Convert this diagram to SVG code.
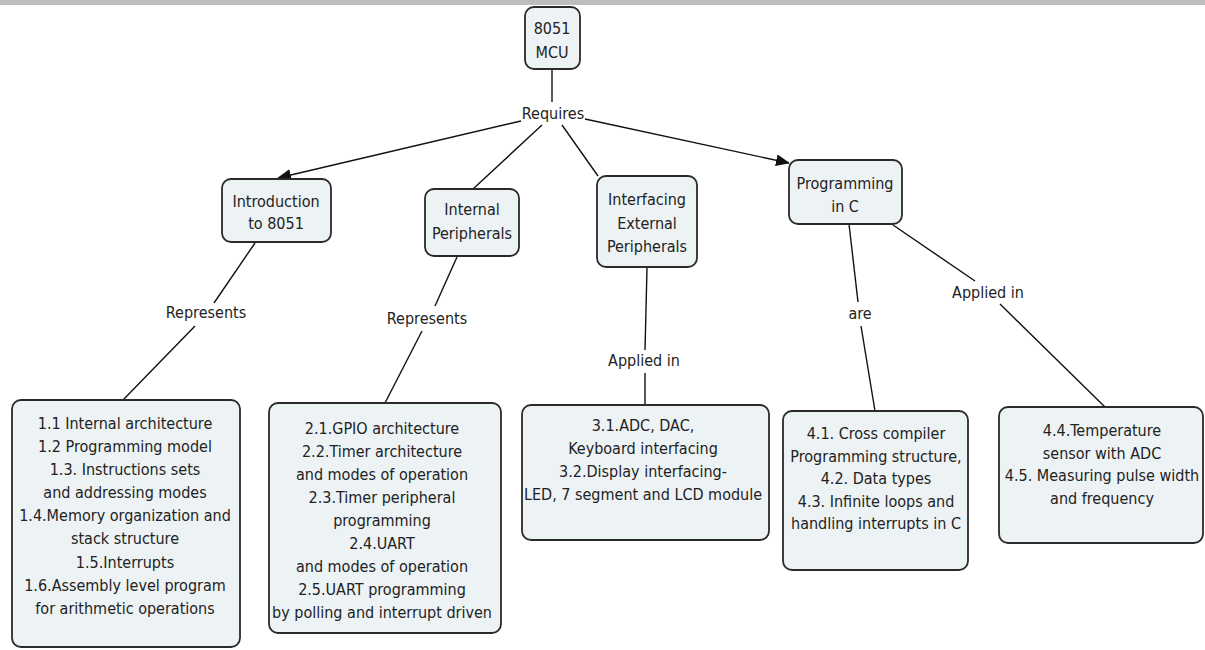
<svg xmlns="http://www.w3.org/2000/svg" width="1205" height="650" viewBox="0 0 1205 650">
<style>
.node{fill:#edf2f5;stroke:#2a2a2a;stroke-width:1.8}
.t{font-family:"DejaVu Sans Condensed","DejaVu Sans",sans-serif;font-stretch:condensed;font-size:16px;fill:#222;text-anchor:middle}
.c{stroke:#111;stroke-width:1.4;fill:none}
</style>
<defs>
<marker id="ah" markerUnits="userSpaceOnUse" markerWidth="14" markerHeight="12" refX="13" refY="6" orient="auto">
<path d="M0,0 L14,6 L0,12 z" fill="#111"/>
</marker>
</defs>
<rect x="0" y="0" width="1205" height="5" fill="#bdbdbd"/>
<rect width="1205" height="645" y="5" fill="#fff"/>

<g id="connectors">
<line class="c" x1="552" y1="69" x2="552" y2="102"/>
<line class="c" x1="521" y1="121" x2="278" y2="178" marker-end="url(#ah)"/>
<line class="c" x1="542" y1="125" x2="473" y2="189"/>
<line class="c" x1="562" y1="125" x2="598" y2="176"/>
<line class="c" x1="585" y1="119" x2="789" y2="163" marker-end="url(#ah)"/>
<line class="c" x1="255" y1="243" x2="214" y2="303"/>
<line class="c" x1="195" y1="326" x2="123" y2="400"/>
<line class="c" x1="457" y1="257" x2="435" y2="306"/>
<line class="c" x1="422" y1="331" x2="385" y2="403"/>
<line class="c" x1="647" y1="268" x2="645" y2="350"/>
<line class="c" x1="645" y1="373" x2="645" y2="405"/>
<line class="c" x1="849" y1="224" x2="858" y2="302"/>
<line class="c" x1="861" y1="326" x2="875" y2="411"/>
<line class="c" x1="893" y1="225" x2="975" y2="281"/>
<line class="c" x1="1000" y1="304" x2="1105" y2="407"/>
<text class="t" x="553" y="119">Requires</text>
<text class="t" x="206" y="318">Represents</text>
<text class="t" x="427" y="324">Represents</text>
<text class="t" x="644" y="366">Applied in</text>
<text class="t" x="860" y="319">are</text>
<text class="t" x="988" y="298">Applied in</text>
</g>

<g id="mcu">
<rect class="node" x="525" y="7" width="55" height="62" rx="9"/>
<text class="t" x="552" y="34">8051</text>
<text class="t" x="552" y="58">MCU</text>
</g>

<g id="intro">
<rect class="node" x="222" y="179" width="109" height="63" rx="9"/>
<text class="t" x="276" y="207">Introduction</text>
<text class="t" x="276" y="229">to 8051</text>
</g>

<g id="internal">
<rect class="node" x="425" y="189" width="94" height="67" rx="9"/>
<text class="t" x="472" y="215">Internal</text>
<text class="t" x="472" y="239">Peripherals</text>
</g>

<g id="interfacing">
<rect class="node" x="597" y="176" width="100" height="91" rx="9"/>
<text class="t" x="647" y="205">Interfacing</text>
<text class="t" x="647" y="229">External</text>
<text class="t" x="647" y="252">Peripherals</text>
</g>

<g id="programming">
<rect class="node" x="789" y="160" width="113" height="64" rx="9"/>
<text class="t" x="845" y="189">Programming</text>
<text class="t" x="845" y="212">in C</text>
</g>

<g id="box1">
<rect class="node" x="12" y="400" width="228" height="247" rx="9"/>
<text class="t" x="125" y="429">1.1 Internal architecture</text>
<text class="t" x="125" y="452">1.2 Programming model</text>
<text class="t" x="125" y="475">1.3. Instructions sets</text>
<text class="t" x="125" y="498">and addressing modes</text>
<text class="t" x="125" y="521">1.4.Memory organization and</text>
<text class="t" x="125" y="544">stack structure</text>
<text class="t" x="125" y="568">1.5.Interrupts</text>
<text class="t" x="125" y="591">1.6.Assembly level program</text>
<text class="t" x="125" y="614">for arithmetic operations</text>
</g>

<g id="box2">
<rect class="node" x="269" y="403" width="232" height="230" rx="9"/>
<text class="t" x="382" y="434">2.1.GPIO architecture</text>
<text class="t" x="382" y="457">2.2.Timer architecture</text>
<text class="t" x="382" y="480">and modes of operation</text>
<text class="t" x="382" y="503">2.3.Timer peripheral</text>
<text class="t" x="382" y="526">programming</text>
<text class="t" x="382" y="549">2.4.UART</text>
<text class="t" x="382" y="572">and modes of operation</text>
<text class="t" x="382" y="595">2.5.UART programming</text>
<text class="t" x="382" y="618">by polling and interrupt driven</text>
</g>

<g id="box3">
<rect class="node" x="522" y="405" width="247" height="135" rx="9"/>
<text class="t" x="643" y="431">3.1.ADC, DAC,</text>
<text class="t" x="643" y="454">Keyboard interfacing</text>
<text class="t" x="643" y="477">3.2.Display interfacing-</text>
<text class="t" x="643" y="500">LED, 7 segment and LCD module</text>
</g>

<g id="box4">
<rect class="node" x="783" y="411" width="185" height="159" rx="9"/>
<text class="t" x="876" y="439">4.1. Cross compiler</text>
<text class="t" x="876" y="462">Programming structure,</text>
<text class="t" x="876" y="484">4.2. Data types</text>
<text class="t" x="876" y="507">4.3. Infinite loops and</text>
<text class="t" x="876" y="529">handling interrupts in C</text>
</g>

<g id="box5">
<rect class="node" x="999" y="407" width="204" height="136" rx="9"/>
<text class="t" x="1102" y="436">4.4.Temperature</text>
<text class="t" x="1102" y="459">sensor with ADC</text>
<text class="t" x="1102" y="481">4.5. Measuring pulse width</text>
<text class="t" x="1102" y="504">and frequency</text>
</g>
</svg>
